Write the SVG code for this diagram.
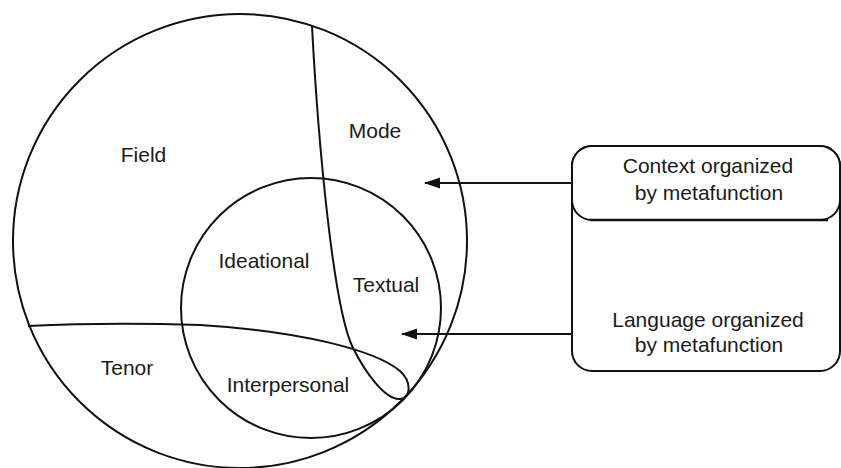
<svg xmlns="http://www.w3.org/2000/svg" width="841" height="468" viewBox="0 0 841 468">
<defs>
<style>
.ln{fill:none;stroke:#111;stroke-width:2}
.box{fill:#fff;stroke:#111;stroke-width:2}
.t{font-family:"Liberation Sans",Arial,sans-serif;font-size:21px;fill:#1a1a1a;text-anchor:middle}
</style>
<marker id="ah" markerUnits="userSpaceOnUse" markerWidth="18" markerHeight="12" viewBox="0 -6 16 12" refX="15" refY="0" orient="auto">
<path d="M0,-5.5 L16,0 L0,5.5 Z" fill="#111"/>
</marker>
</defs>
<rect width="841" height="468" fill="#fff"/>
<g id="diagram">
<circle class="ln" cx="240" cy="241" r="227"/>
<circle class="ln" cx="311" cy="308" r="130"/>
<path class="ln" d="M312,26 C318,140 333,308 353,348 C365,372 385,400 400,399 C411,398 412,382 400,371 C375,350 300,331 200,325 Q110,322 28,326"/>
</g>
<g id="labels">
<text class="t" x="143.5" y="162">Field</text>
<text class="t" x="375" y="138">Mode</text>
<text class="t" x="264" y="268">Ideational</text>
<text class="t" x="386" y="292">Textual</text>
<text class="t" x="127" y="375">Tenor</text>
<text class="t" x="288" y="392">Interpersonal</text>
</g>
<g id="language-box">
<rect class="box" x="572" y="146" width="268" height="225" rx="20"/>
<text class="t" x="708" y="327">Language organized</text>
<text class="t" x="709" y="352">by metafunction</text>
</g>
<g id="context-box">
<rect class="box" x="572" y="146" width="268" height="74" rx="20"/>
<line x1="590" y1="220" x2="828" y2="220" stroke="#111" stroke-width="2.5"/>
<text class="t" x="708" y="173">Context organized</text>
<text class="t" x="709" y="200">by metafunction</text>
</g>
<g id="connectors">
<line class="ln" x1="572" y1="183" x2="425" y2="183" marker-end="url(#ah)"/>
<line class="ln" x1="572" y1="334" x2="402" y2="334" marker-end="url(#ah)"/>
</g>
</svg>
